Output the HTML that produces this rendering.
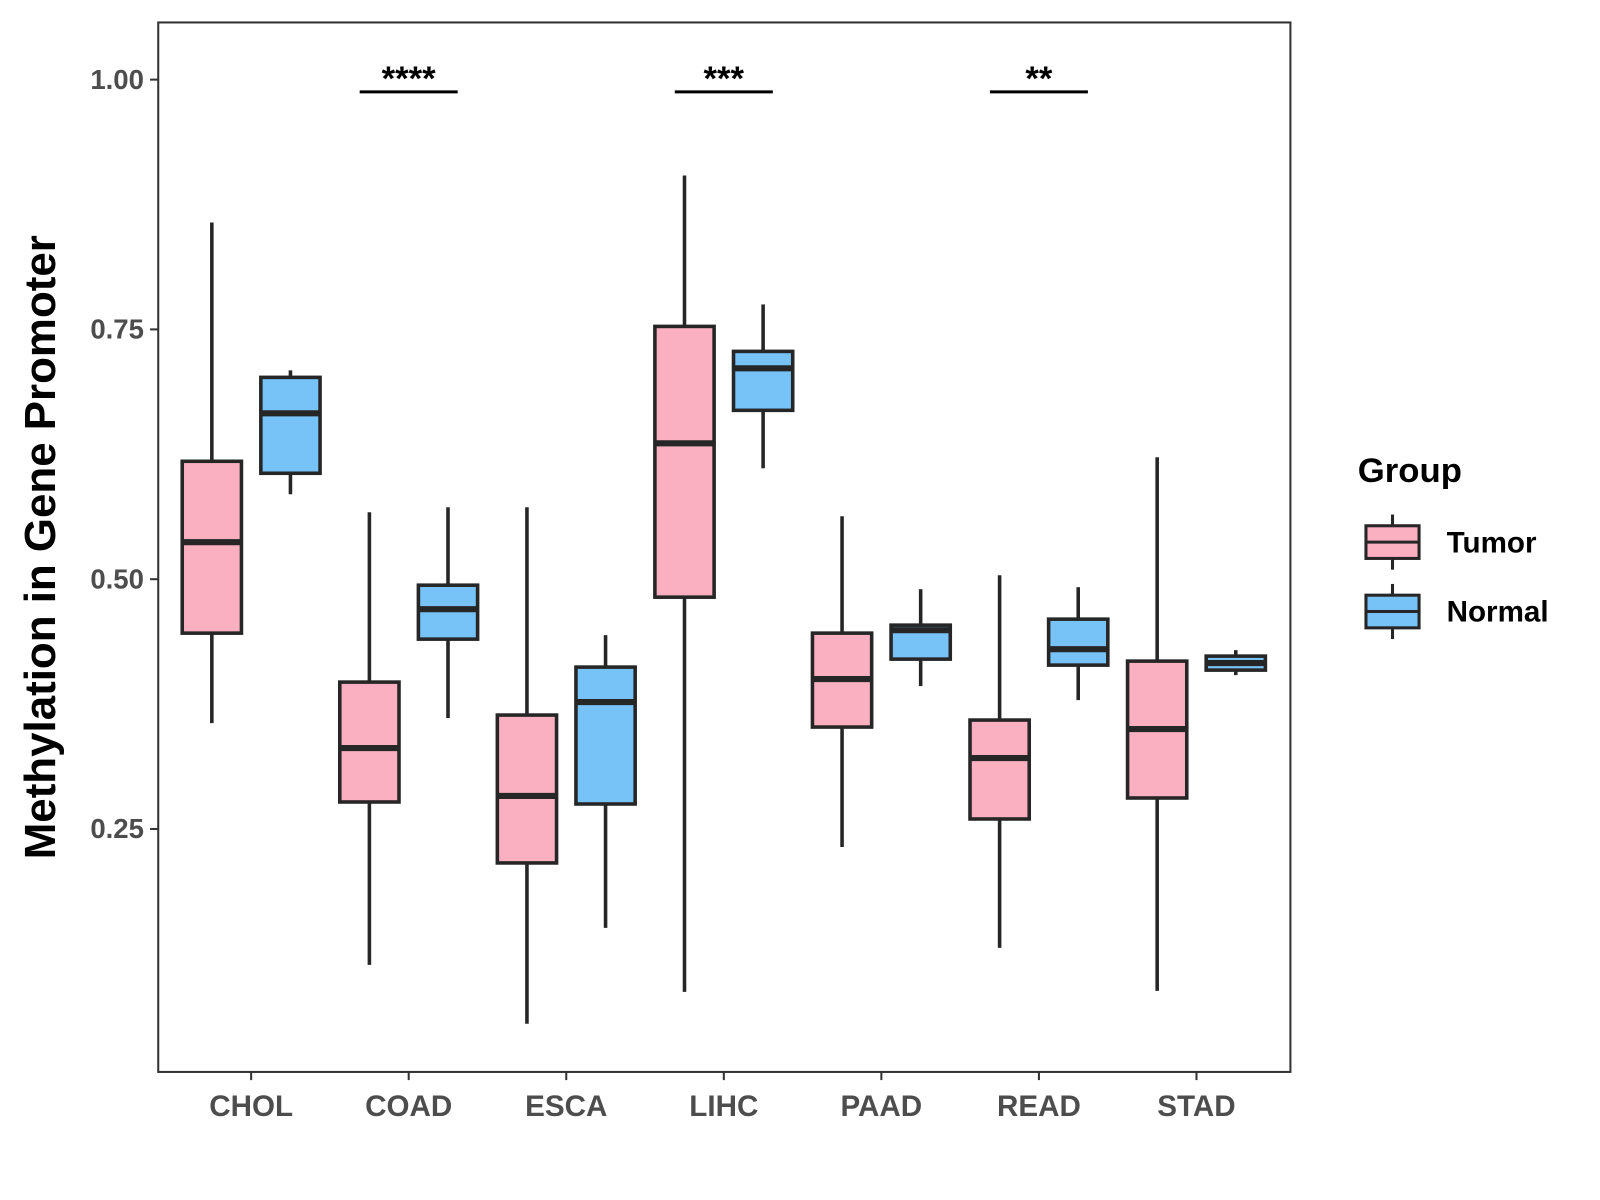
<!DOCTYPE html>
<html><head><meta charset="utf-8"><style>
body{margin:0;background:#fff}
svg{display:block;font-family:"Liberation Sans",Arial,sans-serif}
</style></head><body>
<svg id="chart" width="1600" height="1200" viewBox="0 0 1600 1200">
<rect x="0" y="0" width="1600" height="1200" fill="#fff"/>
<g id="plot" transform="scale(1.0209)"></g>
</svg>
<script>
const categories = ["CHOL","COAD","ESCA","LIHC","PAAD","READ","STAD"];
// [min, q1, median, q3, max]
const tumorStats = [
 [0.356,0.446,0.537,0.618,0.857],
 [0.114,0.277,0.331,0.397,0.567],
 [0.055,0.216,0.283,0.364,0.572],
 [0.087,0.482,0.636,0.753,0.904],
 [0.232,0.352,0.400,0.446,0.563],
 [0.131,0.260,0.321,0.359,0.504],
 [0.088,0.281,0.350,0.418,0.622]
];
const normalStats = [
 [0.585,0.606,0.666,0.702,0.709],
 [0.361,0.440,0.470,0.494,0.572],
 [0.151,0.275,0.377,0.412,0.444],
 [0.611,0.669,0.711,0.728,0.775],
 [0.393,0.420,0.449,0.454,0.490],
 [0.379,0.414,0.430,0.460,0.492],
 [0.404,0.409,0.416,0.423,0.429]
];
const yTicks = [0.25,0.50,0.75,1.00];
const yTickLabels = ["0.25","0.50","0.75","1.00"];
const sigCategories = ["COAD","LIHC","READ"];
const sigLabels = ["****","***","**"];

const NS="http://www.w3.org/2000/svg";
const g=document.getElementById('plot');
const P={l:155,r:1264,t:22,b:1050};
function y(v){return 812-(v-0.25)*978.67;}
function x(i){return 246+i*154.33;}
function mk(tag,attrs,parent){const e=document.createElementNS(NS,tag);for(const k in attrs)e.setAttribute(k,attrs[k]);(parent||g).appendChild(e);return e;}

const panel=mk('rect',{x:P.l,y:P.t,width:P.r-P.l,height:P.b-P.t,fill:'none',stroke:'#333','stroke-width':2});



yTicks.forEach((v,i)=>{
 const t=mk('line',{x1:P.l-8,x2:P.l,y1:y(v),y2:y(v),stroke:'#333','stroke-width':2});
 
 
 const l=mk('text',{x:P.l-14,y:y(v)+9,'text-anchor':'end','font-size':27,'font-weight':'bold',fill:'#4d4d4d'});
 l.textContent=yTickLabels[i];
 
 
});
categories.forEach((c,i)=>{
 const t=mk('line',{x1:x(i),x2:x(i),y1:P.b,y2:P.b+8,stroke:'#333','stroke-width':2});
 
 
 const l=mk('text',{x:x(i),y:1093,'text-anchor':'middle','font-size':29,'font-weight':'bold',fill:'#4d4d4d'});
 l.textContent=c;
 
 
});
const yt=mk('text',{x:0,y:0,transform:'translate(54,536) rotate(-90)','text-anchor':'middle','font-size':43,'font-weight':'bold',fill:'#000'});
yt.textContent='Methylation in Gene Promoter';



function box(cx,s,fill,name){
 const bg=mk('g',{});
 
 
 const w=29;
 mk('line',{x1:cx,x2:cx,y1:y(s[4]),y2:y(s[3]),stroke:'#262626','stroke-width':3.5},bg);
 mk('line',{x1:cx,x2:cx,y1:y(s[1]),y2:y(s[0]),stroke:'#262626','stroke-width':3.5},bg);
 mk('rect',{x:cx-w,y:y(s[3]),width:2*w,height:Math.max(1,y(s[1])-y(s[3])),fill:fill,stroke:'#262626','stroke-width':3.5},bg);
 mk('line',{x1:cx-w,x2:cx+w,y1:y(s[2]),y2:y(s[2]),stroke:'#262626','stroke-width':6},bg);
}
categories.forEach((c,i)=>{
 box(x(i)-38.5,tumorStats[i],'#fbb0c2','tumor-box-'+c.toLowerCase());
 box(x(i)+38.5,normalStats[i],'#77c2f7','normal-box-'+c.toLowerCase());
});
sigCategories.forEach((c,k)=>{
 const i=categories.indexOf(c);
 const l=mk('line',{x1:x(i)-48,x2:x(i)+48,y1:90,y2:90,stroke:'#000','stroke-width':3});
 
 
 const t=mk('text',{x:x(i),y:88,'text-anchor':'middle','font-size':34,'font-weight':'bold',fill:'#000'});
 t.textContent=sigLabels[k];
 
 
});
// legend
const lt=mk('text',{x:1330,y:472,'font-size':34,'font-weight':'bold',fill:'#000'});
lt.textContent='Group';


[['Tumor','#fbb0c2',531],['Normal','#77c2f7',599]].forEach(([n,f,cy])=>{
 const eg=mk('g',{});
 
 
 mk('line',{x1:1364,x2:1364,y1:cy-27,y2:cy+27,stroke:'#262626','stroke-width':3},eg);
 mk('rect',{x:1338,y:cy-16,width:52,height:32,fill:f,stroke:'#262626','stroke-width':3},eg);
 mk('line',{x1:1338,x2:1390,y1:cy,y2:cy,stroke:'#262626','stroke-width':3},eg);
 const t=mk('text',{x:1417,y:cy+10,'font-size':29,'font-weight':'bold',fill:'#000'},eg);
 t.textContent=n;
});
</script>
</body></html>
